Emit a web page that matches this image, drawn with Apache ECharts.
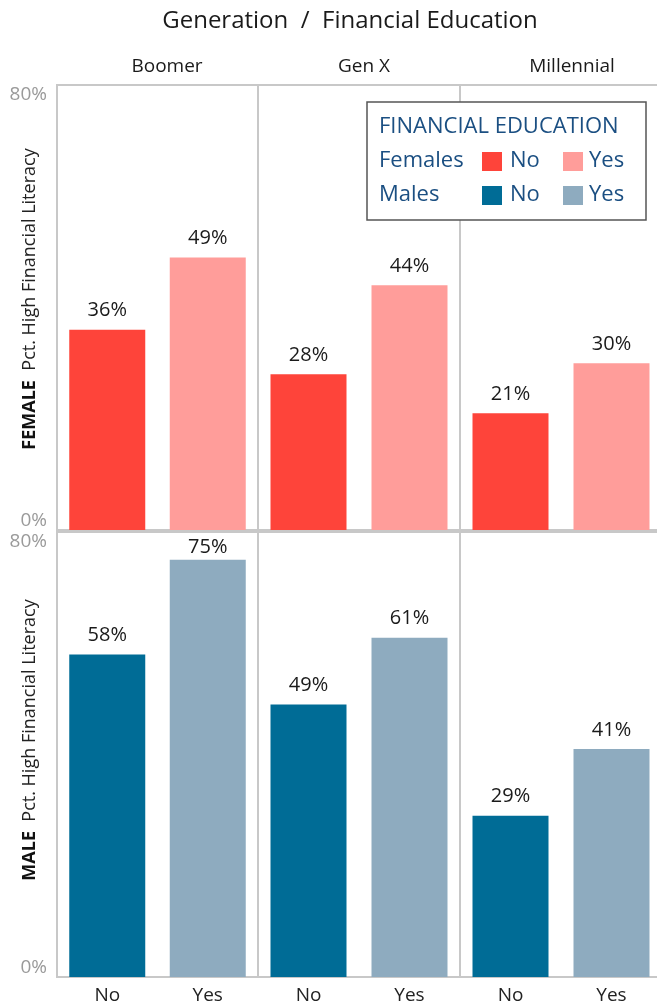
<!DOCTYPE html>
<html>
<head>
<meta charset="utf-8">
<style>
  html, body { margin: 0; padding: 0; background: #fff; }
  #chart { width: 657px; height: 1006px; }
</style>
<script src="https://cdn.jsdelivr.net/npm/echarts@6/dist/echarts.min.js"></script>
</head>
<body>
<div id="chart"></div>
<script>
// Share with high financial literacy, by generation, sex and financial education
const generations = ['Boomer', 'Gen X', 'Millennial'];
const educationLevels = ['No', 'Yes'];
const femaleNo  = [36, 28, 21];
const femaleYes = [49, 44, 30];
const maleNo    = [58, 49, 29];
const maleYes   = [75, 61, 41];
const yTicks = [0, 80];

const COLORS = {
  femaleNo: '#fe443a',
  femaleYes: '#ff9d9a',
  maleNo: '#006c96',
  maleYes: '#8eabbf'
};
const FONT = '"Open Sans", "Noto Sans", sans-serif';
const LINE = '#c8c8c8';
const NAVY = '#1b4f82';

const rows = [
  { top: 85,  noVals: femaleNo, yesVals: femaleYes, noColor: COLORS.femaleNo, yesColor: COLORS.femaleYes },
  { top: 532, noVals: maleNo,   yesVals: maleYes,   noColor: COLORS.maleNo,   yesColor: COLORS.maleYes }
];
const colLeft = [57, 258, 460];
const colWidth = [201, 202, 202];
const panelHeight = 445;

// Labels of bars close to the top of the panel are tucked in so they stay inside it
function barItem(value, color) {
  const item = { value: value, itemStyle: { color: color } };
  if (value > yTicks[1] - 8) item.label = { distance: 3 };
  return item;
}

const grids = [], xAxes = [], yAxes = [], series = [];
rows.forEach((row, r) => {
  generations.forEach((gen, c) => {
    const idx = grids.length;
    grids.push({
      left: colLeft[c], top: row.top, width: colWidth[c], height: panelHeight,
      outerBoundsMode: 'none', containLabel: false,
      show: true, borderColor: LINE, borderWidth: 2, backgroundColor: 'transparent'
    });
    xAxes.push({
      type: 'category', gridIndex: idx, data: educationLevels,
      axisLine: { show: false }, axisTick: { show: false },
      axisLabel: {
        show: r === 1, margin: 9, fontSize: 19, color: '#222', fontFamily: FONT
      }
    });
    yAxes.push({
      type: 'value', gridIndex: idx, min: yTicks[0], max: yTicks[1], interval: yTicks[1],
      splitLine: { show: false }, axisLine: { show: false }, axisTick: { show: false },
      axisLabel: {
        show: c === 0, formatter: '{value}%', fontSize: 19, color: '#9a9a9a', fontFamily: FONT,
        margin: 10, verticalAlignMinLabel: 'bottom', verticalAlignMaxLabel: 'top'
      }
    });
    series.push({
      type: 'bar', xAxisIndex: idx, yAxisIndex: idx, barWidth: 76,
      data: [barItem(row.noVals[c], row.noColor), barItem(row.yesVals[c], row.yesColor)],
      label: {
        show: true, position: 'top', distance: 9, formatter: '{c}%',
        fontSize: 20, color: '#1a1a1a', fontFamily: FONT
      }
    });
  });
});

// Generation headers above the columns
const headerX = [167, 364, 572];
const headers = generations.map((g, i) => ({
  type: 'text', x: headerX[i], y: 67,
  style: { text: g, textAlign: 'center', textVerticalAlign: 'middle', fontSize: 19, fill: '#1a1a1a', fontFamily: FONT }
}));

// Vertical row titles
function rowTitle(bold, rest, cx, cy) {
  return {
    type: 'text', x: cx, y: cy, rotation: Math.PI / 2,
    style: {
      text: '{b|' + bold + '}  ' + rest,
      textAlign: 'center', textVerticalAlign: 'middle',
      fontSize: 18, fill: '#222', fontFamily: FONT,
      rich: { b: { fontWeight: 'bold', fontSize: 18, fill: '#111', fontFamily: FONT } }
    }
  };
}

// Legend box
function legendText(text, x, y) {
  return { type: 'text', x: x, y: y,
    style: { text: text, fontSize: 22, fill: NAVY, fontFamily: FONT, textVerticalAlign: 'middle' } };
}
const legend = {
  type: 'group', x: 367, y: 102,
  children: [
    { type: 'rect', shape: { x: 0, y: 0, width: 279, height: 118 },
      style: { fill: '#fff', stroke: '#555', lineWidth: 1.5 } },
    legendText('FINANCIAL EDUCATION', 12, 25),
    legendText('Females', 12, 59),
    legendText('Males', 12, 93),
    { type: 'rect', shape: { x: 115, y: 50, width: 20, height: 19 }, style: { fill: COLORS.femaleNo } },
    legendText('No', 143, 59),
    { type: 'rect', shape: { x: 196, y: 50, width: 20, height: 19 }, style: { fill: COLORS.femaleYes } },
    legendText('Yes', 222, 59),
    { type: 'rect', shape: { x: 115, y: 84, width: 20, height: 19 }, style: { fill: COLORS.maleNo } },
    legendText('No', 143, 93),
    { type: 'rect', shape: { x: 196, y: 84, width: 20, height: 19 }, style: { fill: COLORS.maleYes } },
    legendText('Yes', 222, 93)
  ]
};

const chart = echarts.init(document.getElementById('chart'), null, { renderer: 'canvas' });
chart.setOption({
  animation: false,
  backgroundColor: '#fff',
  title: {
    text: 'Generation  /  Financial Education',
    left: 345, top: 4, textAlign: 'center',
    textStyle: { fontSize: 24, fontWeight: 'normal', color: '#1a1a1a', fontFamily: FONT }
  },
  grid: grids,
  xAxis: xAxes,
  yAxis: yAxes,
  series: series,
  graphic: [
    ...headers,
    rowTitle('FEMALE', 'Pct. High Financial Literacy', 30, 299),
    rowTitle('MALE', 'Pct. High Financial Literacy', 30, 740),
    legend
  ]
});
</script>
</body>
</html>
